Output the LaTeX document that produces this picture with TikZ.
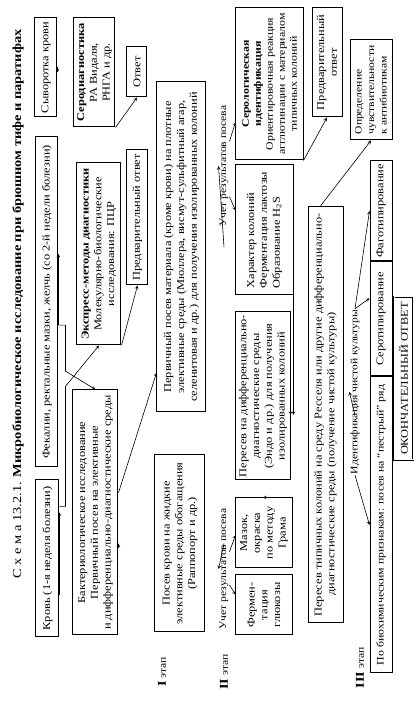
\documentclass[tikz,border=0pt]{standalone}
\usepackage{fontspec}
\setmainfont[FakeStretch=1.18]{Liberation Serif}
\usepackage{tikz}
\usetikzlibrary{positioning, calc, arrows.meta}

\tikzset{
    sch_box/.style 2 args={
        draw,
        line width=1pt,
        minimum width=#1,
        minimum height=#2,
        inner sep=1pt,
        align=center,
        font=\fontsize{10.5}{12.8}\selectfont
    },
    sch_edge/.style={
        ->,
        >=stealth,
        line width=0.6pt
    },
    sch_note/.style={
        inner sep=1pt,
        font=\fontsize{9.8}{12}\selectfont
    },
    final_box/.style={
        draw,
        double,
        line width=0.6pt,
        double distance=1pt,
        minimum width=163,
        minimum height=19,
        inner sep=1pt,
        font=\fontsize{10.5}{12}\selectfont
    }
}
\newcommand{\stagenum}[1]{{\fontsize{12}{12}\selectfont\textbf{#1}}}

\begin{document}
\begin{tikzpicture}[x=1pt, y=1pt, rotate=90, transform shape]
    \useasboundingbox (0,0) rectangle (703,416);

    \node[font=\fontsize{12.2}{14}\selectfont, inner sep=0pt] (title) at (399,398)
        {С х е м а 13.2.1. \textbf{Микробиологическое исследование при брюшном тифе и паратифах}};

    % материал
    \node[sch_box={157}{23}] (krov) at (144.5,368.5) {Кровь (1-я неделя болезни)};
    \node[sch_box={330}{22}] (fekal) at (401,369) {Фекалии, ректальные мазки, желчь (со 2-й недели болезни)};
    \node[sch_box={99}{22}] (syvor) at (635.5,370) {Сыворотка крови};

    \node[sch_box={245}{45}] (bakt) at (190.5,320.5)
        {Бактериологическое исследование\\Первичный посев на элективные\\и дифференциально-диагностические среды};
    \node[sch_box={182}{44}] (express) at (449,317)
        {\textbf{Экспресс-методы диагностики}\\Молекулярно-биологические\\исследования: ПЦР};
    \node[sch_box={109}{41}] (serodiag) at (630.5,321.5)
        {\textbf{Серодиагностика}\\РА Видаля,\\РНГА и др.};

    \node[sch_box={50}{20}] (otvet) at (631,279) {Ответ};
    \node[sch_box={135}{21}] (predv1) at (485.5,278.5) {Предварительный ответ};

    % I этап
    \node[sch_box={177}{50}] (posevkrovi) at (159.5,236)
        {Посев крови на жидкие\\элективные среды обогащения\\(Раппопорт и др.)};
    \node[sch_box={330}{49}] (pervichny) at (456,234.5)
        {Первичный посев материала (кроме крови) на плотные\\элективные среды (Мюллера, висмут-сульфитный агар,\\селенитовая и др.) для получения изолированных колоний};
    \node[sch_note] (stage1) at (31,254) {\stagenum{I} этап};

    % II этап
    \node[sch_note] (stage2) at (31,192) {\stagenum{II} этап};
    \node[sch_note] (uchet2) at (134,192) {Учет результатов посева};
    \node[sch_note] (uchet1) at (537,192) {Учет результатов посева};
    \node[sch_box={60}{56}] (fermen) at (98,152) {Фермен-\\тация\\глюкозы};
    \node[sch_box={70}{56}] (mazok) at (170,152) {Мазок,\\окраска\\по методу\\Грама};
    \node[sch_box={168}{54}] (peresevdiff) at (307,153)
        {Пересев на дифференциально-\\диагностические среды\\(Эндо и др.) для получения\\изолированных колоний};
    \node[sch_box={130}{57}, align=left] (harakter) at (473,151.5)
        {Характер колоний\\Ферментация лактозы\\Образование H\textsubscript{2}S};
    \node[sch_box={152}{67}, font=\fontsize{10}{12}\selectfont] (serol) at (619,146.5)
        {\textbf{Серологическая}\\\textbf{идентификация}\\Ориентировочная реакция\\агглютинации с материалом\\типичных колоний};
    \node[sch_box={109}{30}] (predv2) at (640.5,89) {Предварительный\\ответ};

    % III этап
    \node[sch_box={416}{35}, align=left] (peresevtip) at (288,90.5)
        {Пересев типичных колоний на среду Ресселя или другие дифференциально-\\\hspace{2em}диагностические среды (получение чистой культуры)};
    \node[sch_box={100}{42}, align=left, font=\fontsize{9.8}{12.5}\selectfont] (opred) at (613,45)
        {Определение\\чувствительности\\к антибиотикам};
    \node[sch_note] (stage3) at (35,56) {\stagenum{III} этап};
    \node[sch_note] (ident) at (311,61) {Идентификация чистой культуры};
    \node[sch_box={296}{22}, font=\fontsize{10}{12}\selectfont] (biochem) at (178,35) {По биохимическим признакам: посев на “пестрый” ряд};
    \node[sch_box={114}{22}, right=0pt of biochem] (serotip) {Серотипирование};
    \node[sch_box={100}{22}, right=0pt of serotip] (fagotip) {Фаготипирование};
    \node[final_box] (final) at (324.5,12.5) {ОКОНЧАТЕЛЬНЫЙ ОТВЕТ};

    % связи
    \coordinate (k1) at ($(krov.south west)!.27!(krov.south east)$);
    \coordinate (k2) at ($(krov.south west)!.83!(krov.south east)$);
    \coordinate (f1) at ($(fekal.south west)!.43!(fekal.south east)$);
    \coordinate (b1) at ($(bakt.south west)!.355!(bakt.south east)$);
    \coordinate (b2) at ($(bakt.south west)!.58!(bakt.south east)$);
    \coordinate (h1) at ($(harakter.south west)!.38!(harakter.south east)$);

    \draw[sch_edge] (syvor.south) -- (syvor.south -| serodiag.north);
    \draw[sch_edge] (k1) -- (k1 -| bakt.north);
    \draw[sch_edge] (f1) -- (f1 -| express.north);
    \draw[sch_edge] (f1) -- ++(0,-7) -- ++(-46,0) -- (bakt.east);
    \draw[sch_edge] (k2) -- ++(0,-6) -- ++(120,0) -- (express.west);
    \draw[sch_edge] (serodiag.south west) -- (otvet.west);
    \draw[sch_edge] (express.south west) -- (predv1.west);
    \draw[sch_edge] (b1) -- (b1 -| posevkrovi.north);
    \draw[sch_edge] (b2) -- ($(pervichny.north west)!.12!(pervichny.north east)$);
    \draw[sch_edge] (uchet1 -| pervichny.south) -- (uchet1.north);
    \draw[sch_edge] ($(uchet1.south west)!.7!(uchet1.south east)$) -- ($(serol.north west)!.25!(serol.north east)$);
    \draw[sch_edge] ($(uchet1.south west)!.25!(uchet1.south east)$) -- ($(harakter.north west)!.65!(harakter.north east)$);
    \draw[sch_edge] (uchet2 -| posevkrovi.south) -- (uchet2.north);
    \draw[sch_edge] ($(uchet2.south west)!.37!(uchet2.south east)$) -- ($(fermen.north west)!.67!(fermen.north east)$);
    \draw[sch_edge] ($(uchet2.south west)!.64!(uchet2.south east)$) -- ($(mazok.north west)!.47!(mazok.north east)$);
    \draw[sch_edge] (mazok.east) -- (peresevdiff.west -| mazok.east);
    \draw[sch_edge] (h1) -- (h1 -| peresevtip.north);
    \draw[sch_edge] (peresevdiff.south) -- (peresevdiff.south -| peresevtip.north);
    \draw[sch_edge] (serol.south west) -- (predv2.west);
    \draw[sch_edge] ($(peresevtip.north east)!.35!(peresevtip.south east)$) -- (opred.west);
    \draw[sch_edge] (ident -| peresevtip.south) -- (ident.north);
    \draw[sch_edge] (ident.west) -- (biochem.north);
    \draw[sch_edge] (ident.east) -- ($(serotip.north west)!.68!(serotip.north east)$);
    \draw[sch_edge] (ident.east) -- (fagotip.north);
\end{tikzpicture}
\end{document}
